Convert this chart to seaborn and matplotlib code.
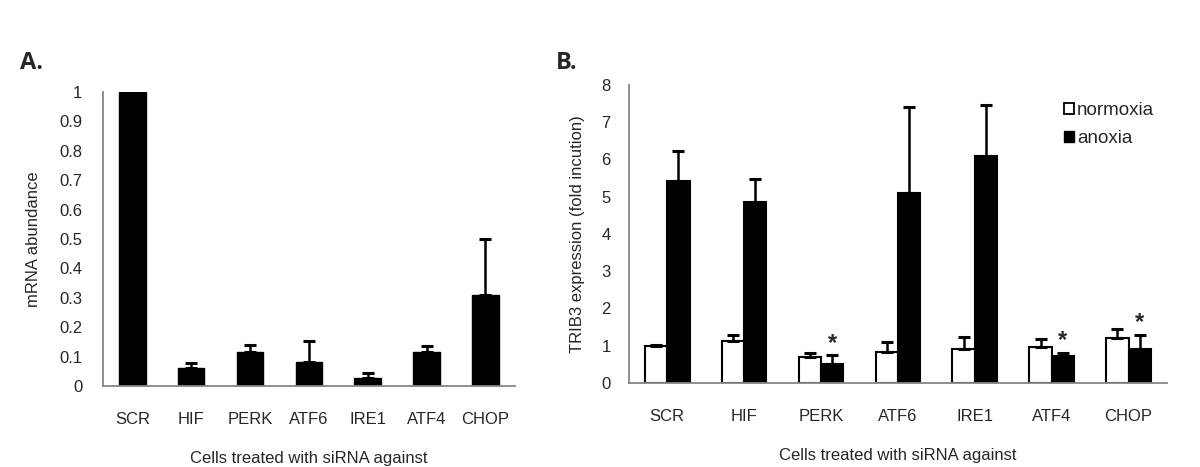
import numpy as np
import pandas as pd
import matplotlib
matplotlib.use("Agg")
import matplotlib.pyplot as plt
import seaborn as sns
from matplotlib.patches import Patch

# ---- data ----
categories = ["SCR", "HIF", "PERK", "ATF6", "IRE1", "ATF4", "CHOP"]
mrna_values = [1.0, 0.06, 0.115, 0.083, 0.027, 0.117, 0.31]
mrna_err = [0.0, 0.02, 0.025, 0.07, 0.018, 0.018, 0.19]

normoxia_values = [1.0, 1.13, 0.70, 0.83, 0.90, 0.97, 1.20]
normoxia_err = [0.02, 0.15, 0.10, 0.27, 0.33, 0.21, 0.26]
anoxia_values = [5.43, 4.87, 0.52, 5.10, 6.10, 0.72, 0.90]
anoxia_err = [0.80, 0.61, 0.22, 2.32, 1.37, 0.08, 0.40]
significant = ["PERK", "ATF4", "CHOP"]

conditions = ["normoxia", "anoxia"]
a_ylabel = "mRNA abundance"
b_ylabel = "TRIB3 expression (fold incution)"
xlabel = "Cells treated with siRNA against"

sns.set_style("white")
plt.rcParams['font.family'] = ['Liberation Sans', 'DejaVu Sans']

fig = plt.figure(figsize=(12, 4.67), dpi=100)
axA = fig.add_axes([0.0858, 0.1734, 0.429 - 0.0858, 0.803 - 0.1734])
axB = fig.add_axes([0.524, 0.180, 0.9725 - 0.524, 0.818 - 0.180])

gray = "#868686"
fs = 12

def style_axis(ax, ylim, yticks, yfmt, ypad):
    n = len(categories)
    ax.set_xlim(-0.5, n - 0.5)
    ax.set_ylim(*ylim)
    ax.set_yticks(yticks)
    ax.set_yticklabels([yfmt(v) for v in yticks], fontsize=fs)
    ax.set_xticks(range(n))
    ax.set_xticklabels(categories, fontsize=fs)
    ax.set_xticks(np.arange(-0.5, n, 1.0), minor=True)
    ax.tick_params(axis="x", which="major", length=0, pad=19)
    ax.tick_params(axis="x", which="minor", length=5, width=1.2, color=gray, direction="out")
    ax.tick_params(axis="y", which="major", length=5, width=1.2, color=gray, direction="out", pad=ypad)
    for s in ["top", "right"]:
        ax.spines[s].set_visible(False)
    for s in ["left", "bottom"]:
        ax.spines[s].set_color(gray)
        ax.spines[s].set_linewidth(1.3)
    ax.set_xlabel(xlabel, fontsize=fs, labelpad=17)

def add_err(ax, p, e):
    ax.errorbar(p.get_x() + p.get_width() / 2, p.get_height(),
                yerr=[[0], [e]], fmt="none", ecolor="black",
                elinewidth=1.8, capsize=4.3, capthick=2.2, zorder=3)

# ---- panel A ----
dfA = pd.DataFrame({"cat": categories, "val": mrna_values})
sns.barplot(data=dfA, x="cat", y="val", order=categories, color="black",
            width=0.45, errorbar=None, ax=axA, saturation=1)
for p, e in zip(axA.patches, mrna_err):
    p.set_edgecolor("black")
    if e > 0:
        add_err(axA, p, e)
style_axis(axA, (0, 1.0), np.round(np.arange(0, 1.01, 0.1), 1),
           lambda v: "0" if v == 0 else ("1" if v == 1 else f"{v:.1f}"), ypad=10)
axA.set_ylabel(a_ylabel, fontsize=fs, labelpad=13)

# ---- panel B ----
dfB = pd.DataFrame({
    "cat": categories * 2,
    "cond": [conditions[0]] * len(categories) + [conditions[1]] * len(categories),
    "val": normoxia_values + anoxia_values,
})
sns.barplot(data=dfB, x="cat", y="val", hue="cond", order=categories,
            hue_order=conditions, palette={"normoxia": "white", "anoxia": "black"},
            width=0.58, errorbar=None, ax=axB, saturation=1, legend=False)
bars = [p for p in axB.patches if p.get_width() > 0]
nb = len(categories)
norm_bars, anox_bars = bars[:nb], bars[nb:]
for p in norm_bars + anox_bars:
    p.set_edgecolor("black")
    p.set_linewidth(1.5)
for group, errs in ((norm_bars, normoxia_err), (anox_bars, anoxia_err)):
    for p, e in zip(group, errs):
        add_err(axB, p, e)
for p, e, c in zip(anox_bars, anoxia_err, categories):
    if c in significant:
        axB.text(p.get_x() + p.get_width() / 2, p.get_height() + e + 0.02, "*",
                 ha="center", va="bottom", fontsize=17, fontweight="bold")
style_axis(axB, (0, 8), list(range(0, 9)), lambda v: f"{v:d}", ypad=8)
axB.set_ylabel(b_ylabel, fontsize=fs, labelpad=12)

# legend
handles = [Patch(facecolor="white", edgecolor="black", linewidth=1.3, label="normoxia"),
           Patch(facecolor="black", edgecolor="black", label="anoxia")]
fig.legend(handles=handles, loc="upper left", bbox_to_anchor=(1064 / 1200, 1 - 102 / 467),
           frameon=False, fontsize=13.5, handlelength=0.55, handleheight=0.55,
           handletextpad=0.15, labelspacing=0.6, borderaxespad=0, borderpad=0)

# panel labels
fig.text(20 / 1200, 1 - 63 / 467, "A.", fontsize=17, fontweight="bold",
         family=["Open Sans", "DejaVu Sans"], va="center", ha="left")
fig.text(556 / 1200, 1 - 63 / 467, "B.", fontsize=17, fontweight="bold",
         family=["Open Sans", "DejaVu Sans"], va="center", ha="left")

fig.savefig("out.png", dpi=100)
